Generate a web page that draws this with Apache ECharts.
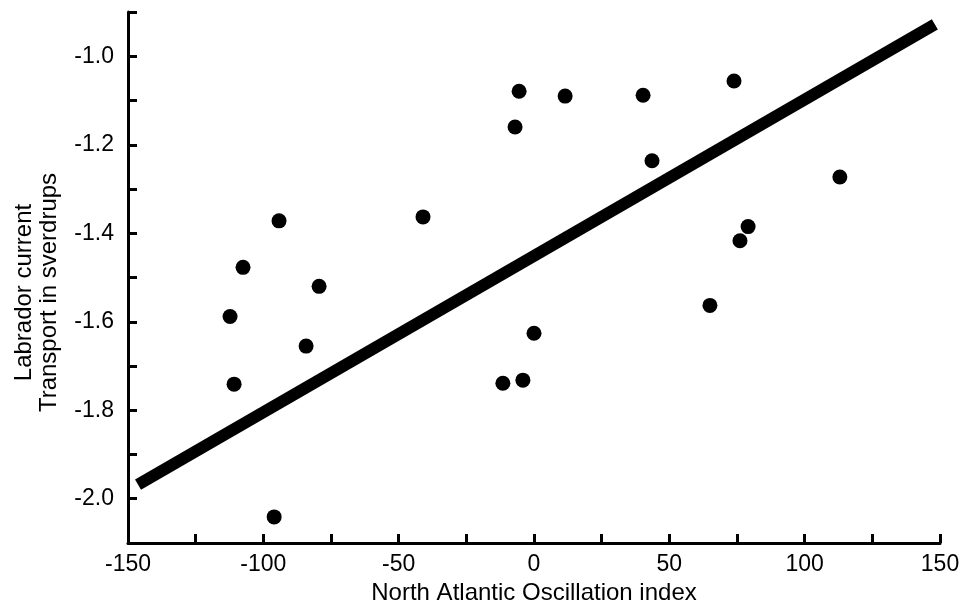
<!DOCTYPE html>
<html>
<head>
<meta charset="utf-8">
<script src="https://cdn.jsdelivr.net/npm/echarts@6/dist/echarts.min.js"></script>
<style>
html,body{margin:0;padding:0;background:#fff;}
#chart{width:961px;height:600px;}
</style>
</head>
<body>
<div id="chart"></div>
<script>
// NAO index (x) and Labrador current transport in sverdrups (y)
var naoIndex = [-94.2, -107.5, -79.4, -112.3, -84.2, -110.8, -96.0, -5.5, 11.5, 40.3, 73.9, -7.0, 43.6, -41.0, 79.1, 76.1, 65.0, 0.0, -11.5, -4.1, 113.0];
var transport = [-1.372, -1.477, -1.520, -1.588, -1.655, -1.741, -2.041, -1.079, -1.090, -1.088, -1.056, -1.160, -1.236, -1.363, -1.385, -1.417, -1.563, -1.626, -1.739, -1.732, -1.273];
// regression line endpoints
var fitX = [-146.3, 148.1];
var fitY = [-1.968, -0.928];
// tick labels
var xTickLabels = [-150, -100, -50, 0, 50, 100, 150];
var yTickLabels = [-2.0, -1.8, -1.6, -1.4, -1.2, -1.0];

var pts = naoIndex.map(function (x, i) { return [x, transport[i]]; });
var fit = fitX.map(function (x, i) { return [x, fitY[i]]; });

var font = 'Liberation Sans, Arial, Helvetica, sans-serif';
var chart = echarts.init(document.getElementById('chart'), null, {renderer: 'canvas'});
chart.setOption({
  backgroundColor: '#fff',
  animation: false,
  grid: {left: 128, right: 21, top: 12, bottom: 57, containLabel: false, outerBoundsMode: 'none'},
  xAxis: {
    type: 'value', min: -150, max: 150, interval: 25,
    name: 'North Atlantic Oscillation index', nameLocation: 'middle', nameGap: 36,
    nameTextStyle: {color: '#000', fontSize: 24, fontFamily: font},
    axisLine: {onZero: false, lineStyle: {color: '#000', width: 3}},
    axisTick: {inside: true, length: 9, lineStyle: {color: '#000', width: 3}},
    axisLabel: {
      color: '#000', fontSize: 23, fontFamily: font, margin: 10,
      formatter: function (v) {
        var r = Math.round(v);
        return xTickLabels.indexOf(r) >= 0 ? String(r) : '';
      }
    },
    splitLine: {show: false}
  },
  yAxis: {
    type: 'value', min: -2.1, max: -0.9, interval: 0.1,
    name: 'Labrador current\nTransport in sverdrups', nameLocation: 'middle', nameGap: 66,
    nameTextStyle: {color: '#000', fontSize: 24, fontFamily: font, lineHeight: 25, padding: [0, 30, 0, 0]},
    axisLine: {onZero: false, lineStyle: {color: '#000', width: 3}},
    axisTick: {inside: true, length: 9, lineStyle: {color: '#000', width: 3}},
    axisLabel: {
      color: '#000', fontSize: 23, fontFamily: font, margin: 14,
      formatter: function (v) {
        var r = Math.round(v * 10) / 10;
        for (var i = 0; i < yTickLabels.length; i++) {
          if (Math.abs(yTickLabels[i] - r) < 1e-6) return r.toFixed(1);
        }
        return '';
      }
    },
    splitLine: {show: false}
  },
  series: [
    {
      type: 'line', data: fit, symbol: 'none', silent: true,
      lineStyle: {color: '#000', width: 12, cap: 'butt'}
    },
    {
      type: 'scatter', data: pts, symbol: 'circle', symbolSize: 15,
      itemStyle: {color: '#000', opacity: 1}
    }
  ]
});
</script>
</body>
</html>
